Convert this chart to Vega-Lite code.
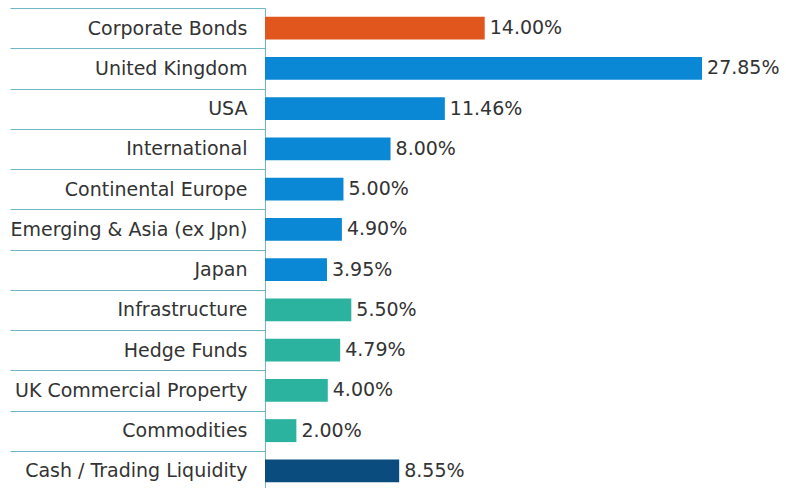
{
  "$schema": "https://vega.github.io/schema/vega-lite/v6.json",
  "width": 521,
  "height": 483,
  "autosize": {"type": "none"},
  "padding": {"left": 265, "top": 8, "right": 0, "bottom": 0},
  "background": "white",
  "config": {"view": {"stroke": null}, "font": "DejaVu Sans"},
  "data": {
    "values": [
      {"asset": "Corporate Bonds", "value": 14.00, "group": "Bonds"},
      {"asset": "United Kingdom", "value": 27.85, "group": "Equities"},
      {"asset": "USA", "value": 11.46, "group": "Equities"},
      {"asset": "International", "value": 8.00, "group": "Equities"},
      {"asset": "Continental Europe", "value": 5.00, "group": "Equities"},
      {"asset": "Emerging & Asia (ex Jpn)", "value": 4.90, "group": "Equities"},
      {"asset": "Japan", "value": 3.95, "group": "Equities"},
      {"asset": "Infrastructure", "value": 5.50, "group": "Alternatives"},
      {"asset": "Hedge Funds", "value": 4.79, "group": "Alternatives"},
      {"asset": "UK Commercial Property", "value": 4.00, "group": "Alternatives"},
      {"asset": "Commodities", "value": 2.00, "group": "Alternatives"},
      {"asset": "Cash / Trading Liquidity", "value": 8.55, "group": "Cash"}
    ]
  },
  "encoding": {
    "y": {
      "field": "asset",
      "type": "nominal",
      "sort": null,
      "scale": {"paddingInner": 0, "paddingOuter": 0},
      "axis": {
        "title": null,
        "tickBand": "extent",
        "tickSize": 255,
        "tickColor": "#6fb7c6",
        "tickWidth": 1,
        "domainColor": "#6fb7c6",
        "domainWidth": 1,
        "labelPadding": -237,
        "labelFontSize": 19,
        "labelColor": "#333333",
        "labelFont": "DejaVu Sans",
        "labelLimit": 300
      }
    },
    "x": {
      "field": "value",
      "type": "quantitative",
      "scale": {"domain": [0, 33.2], "nice": false},
      "axis": null
    }
  },
  "layer": [
    {
      "mark": {"type": "bar", "height": {"band": 0.57}},
      "encoding": {
        "color": {
          "field": "group",
          "type": "nominal",
          "scale": {
            "domain": ["Bonds", "Equities", "Alternatives", "Cash"],
            "range": ["#e0561c", "#0a88d6", "#2cb3a0", "#0b4c7e"]
          },
          "legend": null
        }
      }
    },
    {
      "transform": [{"calculate": "format(datum.value, '.2f') + '%'", "as": "label"}],
      "mark": {"type": "text", "align": "left", "baseline": "middle", "dx": 5, "fontSize": 19, "color": "#333333", "font": "DejaVu Sans"},
      "encoding": {
        "text": {"field": "label", "type": "nominal"}
      }
    }
  ]
}
